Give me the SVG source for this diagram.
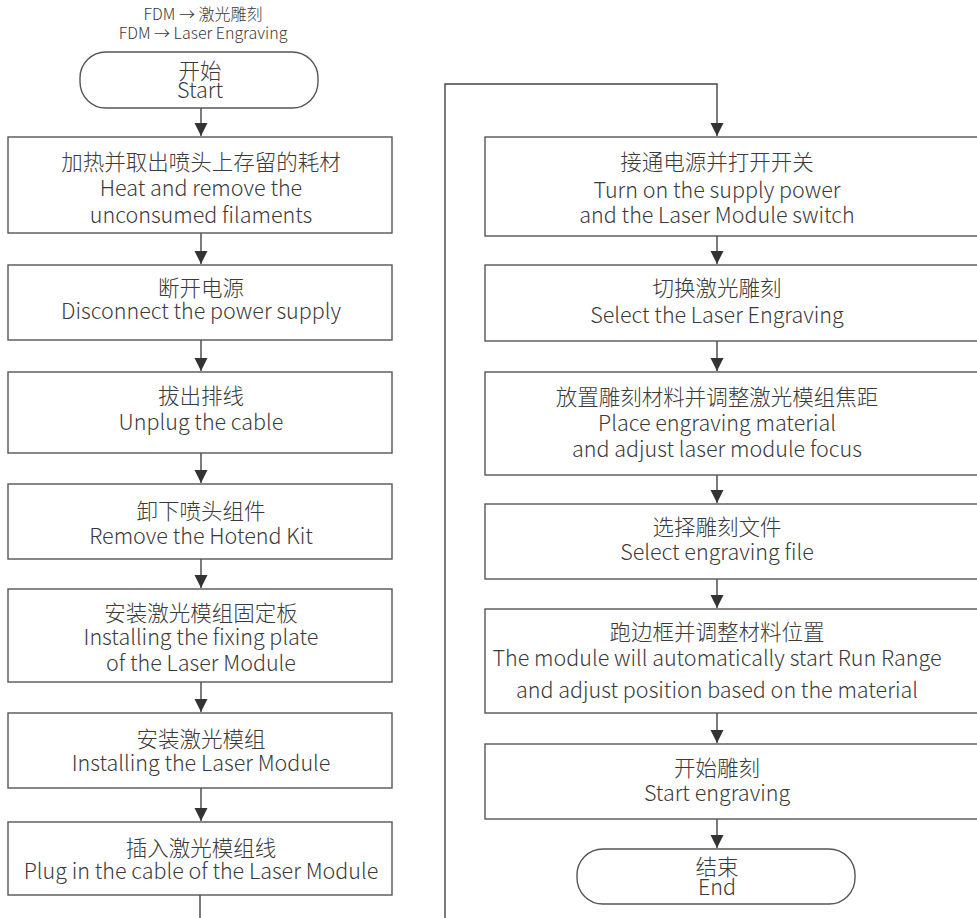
<svg xmlns="http://www.w3.org/2000/svg" width="977" height="918" viewBox="0 0 977 918">
<defs>
<marker id="ah" markerUnits="userSpaceOnUse" markerWidth="14" markerHeight="18" refX="13" refY="6.5" orient="auto">
<path d="M0,0 L13,6.5 L0,13 Z" fill="#333"/>
</marker>
<style>
.b{fill:#fff;stroke:#555;stroke-width:1.4}
.t{font-family:"Noto Sans CJK SC","Noto Sans",sans-serif;font-size:21.5px;fill:#3a3a3a;text-anchor:middle;font-weight:300}
.s{font-size:16px}
.c{fill:none;stroke:#444;stroke-width:1.4}
</style>
</defs>
<rect width="977" height="918" fill="#fff"/>
<g id="title">
<text class="t s" x="203" y="20">FDM → 激光雕刻</text>
<text class="t s" x="203" y="39">FDM → Laser Engraving</text>
</g>
<g id="connectors">
<path class="c" d="M201,108 V136" marker-end="url(#ah)"/>
<path class="c" d="M201,233 V264" marker-end="url(#ah)"/>
<path class="c" d="M201,340 V371" marker-end="url(#ah)"/>
<path class="c" d="M201,453 V483" marker-end="url(#ah)"/>
<path class="c" d="M201,559 V588" marker-end="url(#ah)"/>
<path class="c" d="M201,682 V712" marker-end="url(#ah)"/>
<path class="c" d="M201,788 V821" marker-end="url(#ah)"/>
<path class="c" d="M200,895 V920"/>
<path class="c" d="M445,920 V84 H717 V136" marker-end="url(#ah)"/>
<path class="c" d="M717,236 V264" marker-end="url(#ah)"/>
<path class="c" d="M717,341 V371" marker-end="url(#ah)"/>
<path class="c" d="M717,475 V503" marker-end="url(#ah)"/>
<path class="c" d="M717,579 V608" marker-end="url(#ah)"/>
<path class="c" d="M717,713 V743" marker-end="url(#ah)"/>
<path class="c" d="M717,819 V848" marker-end="url(#ah)"/>
</g>
<g id="start">
<rect class="b" x="80" y="52" width="238" height="56" rx="26" ry="26"/>
<text class="t" x="200" y="79">开始</text>
<text class="t" x="200" y="98">Start</text>
</g>
<g id="n1">
<rect class="b" x="8" y="137" width="384" height="96"/>
<text class="t" x="201" y="170">加热并取出喷头上存留的耗材</text>
<text class="t" x="201" y="196">Heat and remove the</text>
<text class="t" x="201" y="223">unconsumed filaments</text>
</g>
<g id="n2">
<rect class="b" x="8" y="265" width="384" height="75"/>
<text class="t" x="201" y="296">断开电源</text>
<text class="t" x="201" y="319">Disconnect the power supply</text>
</g>
<g id="n3">
<rect class="b" x="8" y="372" width="384" height="81"/>
<text class="t" x="201" y="404">拔出排线</text>
<text class="t" x="201" y="430">Unplug the cable</text>
</g>
<g id="n4">
<rect class="b" x="8" y="484" width="384" height="75"/>
<text class="t" x="201" y="519">卸下喷头组件</text>
<text class="t" x="201" y="544">Remove the Hotend Kit</text>
</g>
<g id="n5">
<rect class="b" x="8" y="589" width="384" height="93"/>
<text class="t" x="201" y="621">安装激光模组固定板</text>
<text class="t" x="201" y="645">Installing the fixing plate</text>
<text class="t" x="201" y="671">of the Laser Module</text>
</g>
<g id="n6">
<rect class="b" x="8" y="713" width="384" height="75"/>
<text class="t" x="201" y="747">安装激光模组</text>
<text class="t" x="201" y="771">Installing the Laser Module</text>
</g>
<g id="n7">
<rect class="b" x="8" y="822" width="384" height="73"/>
<text class="t" x="201" y="856">插入激光模组线</text>
<text class="t" x="201" y="879">Plug in the cable of the Laser Module</text>
</g>
<g id="r1">
<rect class="b" x="485" y="137" width="500" height="99"/>
<text class="t" x="717" y="170">接通电源并打开开关</text>
<text class="t" x="717" y="198">Turn on the supply power</text>
<text class="t" x="717" y="223">and the Laser Module switch</text>
</g>
<g id="r2">
<rect class="b" x="485" y="265" width="500" height="76"/>
<text class="t" x="717" y="296">切换激光雕刻</text>
<text class="t" x="717" y="323">Select the Laser Engraving</text>
</g>
<g id="r3">
<rect class="b" x="485" y="372" width="500" height="103"/>
<text class="t" x="717" y="405">放置雕刻材料并调整激光模组焦距</text>
<text class="t" x="717" y="431">Place engraving material</text>
<text class="t" x="717" y="457">and adjust laser module focus</text>
</g>
<g id="r4">
<rect class="b" x="485" y="504" width="500" height="75"/>
<text class="t" x="717" y="535">选择雕刻文件</text>
<text class="t" x="717" y="560">Select engraving file</text>
</g>
<g id="r5">
<rect class="b" x="485" y="609" width="500" height="104"/>
<text class="t" x="717" y="640">跑边框并调整材料位置</text>
<text class="t" x="717" y="666">The module will automatically start Run Range</text>
<text class="t" x="717" y="698">and adjust position based on the material</text>
</g>
<g id="r6">
<rect class="b" x="485" y="744" width="500" height="75"/>
<text class="t" x="717" y="776">开始雕刻</text>
<text class="t" x="717" y="801">Start engraving</text>
</g>
<g id="end">
<rect class="b" x="577" y="849" width="278" height="55" rx="26" ry="26"/>
<text class="t" x="717" y="875">结束</text>
<text class="t" x="717" y="895">End</text>
</g>
</svg>
